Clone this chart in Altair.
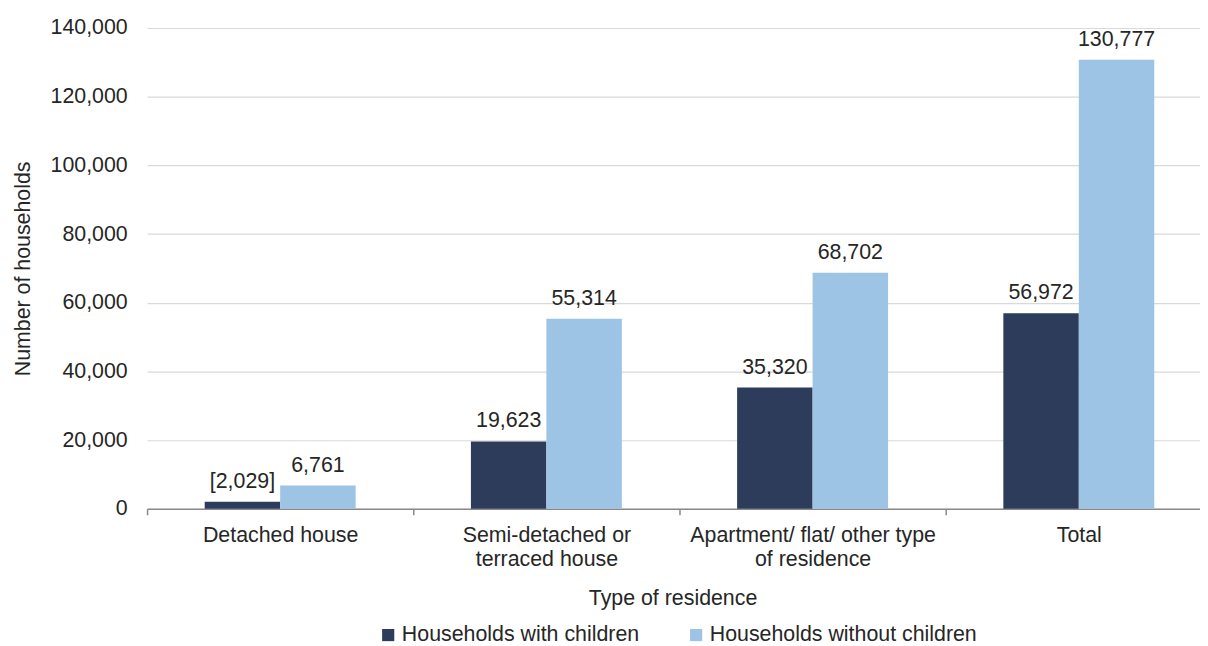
import altair as alt
import pandas as pd

categories = ["Detached house", "Semi-detached or|terraced house",
              "Apartment/ flat/ other type|of residence", "Total"]
series = ["Households with children", "Households without children"]
with_children = [2029, 19623, 35320, 56972]
without_children = [6761, 55314, 68702, 130777]
labels_with = ["[2,029]", "19,623", "35,320", "56,972"]
labels_without = ["6,761", "55,314", "68,702", "130,777"]
y_ticks = [0, 20000, 40000, 60000, 80000, 100000, 120000, 140000]
colors = ["#2E3C5B", "#9DC3E5"]

rows = []
for i, c in enumerate(categories):
    rows.append({"cat": c, "series": series[0], "value": with_children[i], "label": labels_with[i]})
    rows.append({"cat": c, "series": series[1], "value": without_children[i], "label": labels_without[i]})
df = pd.DataFrame(rows)

FONT = "Liberation Sans"
FS = 21.5
TXT = "#262626"

x = alt.X("cat:N", sort=categories,
          scale=alt.Scale(paddingInner=0.433, paddingOuter=0.2165),
          axis=alt.Axis(title="Type of residence", labelAngle=0, grid=False,
                        bandPosition=0, tickOffset=-58, labelOffset=58, tickExtra=False,
                        tickSize=6, tickColor="#898989",
                        domainColor="#898989", domainWidth=1.5, tickWidth=1.5,
                        labelExpr="split(datum.label, '|')", labelLineHeight=24,
                        labelPadding=10, titlePadding=18, labelFontSize=FS, titleFontSize=FS,
                        labelLimit=400, titleX=529, titleAnchor="middle",
                        labelColor=TXT, titleColor=TXT, labelFont=FONT, titleFont=FONT,
                        titleFontWeight="normal"))
xo = alt.XOffset("series:N", sort=series, scale=alt.Scale(paddingInner=0, paddingOuter=0))
y = alt.Y("value:Q", scale=alt.Scale(domain=[0, 140000]),
          axis=alt.Axis(title="Number of households", values=y_ticks, format=",.0f",
                        domain=False, ticks=False, gridColor="#D9D9D9", gridWidth=1.2,
                        labelPadding=20, titlePadding=16, labelFontSize=FS, titleFontSize=FS,
                        labelColor=TXT, titleColor=TXT, labelFont=FONT, titleFont=FONT,
                        titleFontWeight="normal"))

base = alt.Chart(df).encode(x=x, xOffset=xo, y=y)

bars = base.mark_bar().encode(
    color=alt.Color("series:N", sort=series,
                    scale=alt.Scale(domain=series, range=colors),
                    legend=alt.Legend(title=None, orient="none", direction="horizontal",
                                      legendX=232, legendY=600, symbolType="square",
                                      symbolSize=150, symbolStrokeWidth=0, labelOffset=3,
                                      columnPadding=46, labelFontSize=FS, labelFont=FONT,
                                      labelColor=TXT, labelLimit=400))
)
text = base.mark_text(baseline="alphabetic", dy=-14, font=FONT, fontSize=FS, color=TXT).encode(
    text="label:N")

chart = alt.layer(bars, text).properties(
    width=1072, height=484,
    autosize=alt.AutoSizeParams(type="none"),
    padding={"left": 140, "top": 18, "right": -12, "bottom": 136},
).configure_view(stroke=None)

chart.save("out.html", embed_options={"renderer": "svg", "actions": False})
